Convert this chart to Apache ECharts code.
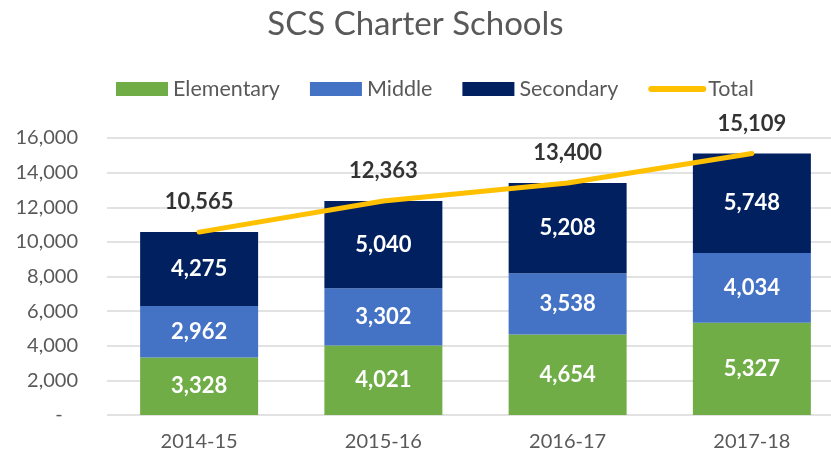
<!DOCTYPE html>
<html>
<head>
<meta charset="utf-8">
<script src="https://cdn.jsdelivr.net/npm/echarts@6/dist/echarts.min.js"></script>
<style>
  html, body { margin: 0; padding: 0; background: #fff; }
  #chart { width: 831px; height: 460px; }
</style>
</head>
<body>
<div id="chart"></div>
<script>
const years = ['2014-15', '2015-16', '2016-17', '2017-18']
const elementary = [3328, 4021, 4654, 5327]
const middle = [2962, 3302, 3538, 4034]
const secondary = [4275, 5040, 5208, 5748]
const totals = [10565, 12363, 13400, 15109]

const FONT = 'Lato'
const GREY = '#595959'
const fmt = (v) => Number(v).toLocaleString('en-US')

const chart = echarts.init(document.getElementById('chart'), null, { renderer: 'canvas' })

// stacked bar series share the same label style
const barLabel = {
  show: true,
  position: 'inside',
  color: '#fff',
  fontFamily: FONT,
  fontWeight: 'bold',
  fontSize: 22,
  formatter: (p) => fmt(p.value)
}

const option = {
  animation: false,
  backgroundColor: '#fff',
  title: {
    text: 'SCS Charter Schools',
    left: 'center',
    top: 3,
    textStyle: { color: GREY, fontFamily: FONT, fontWeight: 'normal', fontSize: 33 }
  },
  legend: {
    left: 111,
    top: 73,
    itemWidth: 52,
    itemHeight: 14,
    itemGap: 30,
    textStyle: { color: GREY, fontFamily: FONT, fontSize: 21.5 },
    data: [
      { name: 'Elementary', icon: 'rect' },
      { name: 'Middle', icon: 'rect' },
      { name: 'Secondary', icon: 'rect' },
      { name: 'Total', itemStyle: { opacity: 0 }, lineStyle: { width: 6, cap: 'round' } }
    ]
  },
  // the plot runs past the right edge of the picture
  grid: { left: 107, right: -13, top: 138, bottom: 45, outerBoundsMode: 'none', containLabel: false },
  xAxis: {
    type: 'category',
    data: years,
    axisLine: { show: false },
    axisTick: { show: false },
    axisLabel: { color: GREY, fontFamily: FONT, fontSize: 20, margin: 17 }
  },
  yAxis: {
    type: 'value',
    min: 0,
    max: 16000,
    interval: 2000,
    axisLine: { show: false },
    axisTick: { show: false },
    axisLabel: {
      color: GREY,
      fontFamily: FONT,
      fontSize: 20,
      margin: 29,
      formatter: (v) => (v === 0 ? '-   ' : fmt(v))
    },
    splitLine: { lineStyle: { color: '#d9d9d9', width: 1.5 } }
  },
  series: [
    {
      name: 'Elementary', type: 'bar', stack: 'all', barWidth: 118,
      itemStyle: { color: '#70AD47' }, label: barLabel, data: elementary
    },
    {
      name: 'Middle', type: 'bar', stack: 'all', barWidth: 118,
      itemStyle: { color: '#4472C4' }, label: barLabel, data: middle
    },
    {
      name: 'Secondary', type: 'bar', stack: 'all', barWidth: 118,
      itemStyle: { color: '#002060' }, label: barLabel, data: secondary
    },
    {
      name: 'Total', type: 'line', symbol: 'none', z: 5,
      lineStyle: { color: '#FFC000', width: 5, cap: 'round' },
      itemStyle: { color: '#FFC000' },
      data: totals
    },
    {
      // total labels, not in legend
      name: 'TotalLabel', type: 'scatter', symbolSize: 0, z: 6,
      label: {
        show: true,
        position: 'top',
        distance: 19,
        color: '#000',
        fontFamily: FONT,
        fontWeight: 'bold',
        fontSize: 22,
        formatter: (p) => fmt(p.value)
      },
      data: totals
    }
  ]
}

chart.setOption(option)
</script>
</body>
</html>
